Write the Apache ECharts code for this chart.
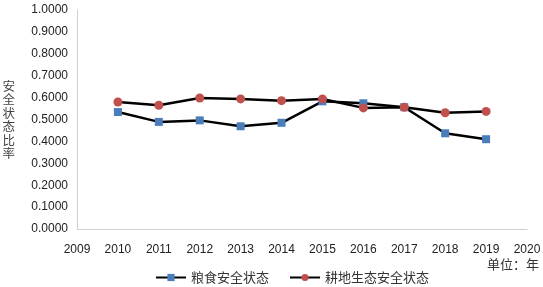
<!DOCTYPE html>
<html>
<head>
<meta charset="utf-8">
<script src="https://cdn.jsdelivr.net/npm/echarts@6/dist/echarts.min.js"></script>
<style>
  html, body { margin: 0; padding: 0; background: #fff; }
  #chart { width: 543px; height: 287px; }
</style>
</head>
<body>
<div id="chart"></div>
<script>
// 年份
var years = [2010, 2011, 2012, 2013, 2014, 2015, 2016, 2017, 2018, 2019];
// 粮食安全状态
var foodSafety = [0.534, 0.489, 0.496, 0.469, 0.485, 0.583, 0.574, 0.556, 0.437, 0.410];
// 耕地生态安全状态
var landSafety = [0.580, 0.565, 0.598, 0.594, 0.586, 0.594, 0.553, 0.556, 0.531, 0.537];

var seriesNames = ['粮食安全状态', '耕地生态安全状态'];

function pairs(xs, ys) {
    var out = [];
    for (var i = 0; i < xs.length; i++) {
        out.push([xs[i], ys[i]]);
    }
    return out;
}

var chart = echarts.init(document.getElementById('chart'));

var option = {
    backgroundColor: '#ffffff',
    animation: false,
    textStyle: {
        fontFamily: 'Liberation Sans, Noto Sans CJK SC, sans-serif'
    },
    grid: {
        left: 77,
        right: 16,
        top: 10,
        bottom: 58,
        containLabel: false,
        outerBoundsMode: 'none'
    },
    legend: {
        data: seriesNames,
        top: 269,
        left: 150,
        padding: [2, 5, 2, 5],
        itemWidth: 30,
        itemHeight: 9,
        itemGap: 20,
        textStyle: {
            fontSize: 13,
            color: '#333',
            fontFamily: 'Noto Sans CJK SC'
        }
    },
    graphic: [{
        type: 'text',
        right: 4,
        top: 258,
        style: {
            text: '单位：年',
            fontSize: 13,
            fill: '#333',
            fontFamily: 'Noto Sans CJK SC'
        }
    }],
    xAxis: {
        type: 'value',
        min: 2009,
        max: 2020,
        interval: 1,
        axisLine: {
            show: true,
            lineStyle: { color: '#d0d0d0', width: 1 }
        },
        axisTick: { show: false },
        splitLine: { show: false },
        axisLabel: {
            margin: 15,
            fontSize: 12,
            color: '#222',
            formatter: function (v) { return String(v); }
        }
    },
    yAxis: {
        type: 'value',
        min: 0,
        max: 1,
        interval: 0.1,
        name: '安\n全\n状\n态\n比\n率',
        nameLocation: 'middle',
        nameRotate: 0,
        nameGap: 62,
        nameTextStyle: {
            fontSize: 12.5,
            color: '#444',
            lineHeight: 13.5,
            padding: [0, 0, 8, 0],
            fontFamily: 'Noto Sans CJK SC'
        },
        axisLine: {
            show: true,
            lineStyle: { color: '#d0d0d0', width: 1 }
        },
        axisTick: { show: false },
        splitLine: { show: false },
        axisLabel: {
            margin: 9,
            fontSize: 12,
            color: '#222',
            formatter: function (v) { return v.toFixed(4); }
        }
    },
    series: [{
        name: seriesNames[0],
        type: 'line',
        data: pairs(years, foodSafety),
        symbol: 'rect',
        symbolSize: 8,
        itemStyle: { color: '#4a7ebb' },
        lineStyle: { color: '#000000', width: 2.5 },
        z: 2
    }, {
        name: seriesNames[1],
        type: 'line',
        data: pairs(years, landSafety),
        symbol: 'circle',
        symbolSize: 9,
        itemStyle: { color: '#c0504d' },
        lineStyle: { color: '#000000', width: 2.5 },
        z: 3
    }]
};

chart.setOption(option);
</script>
</body>
</html>
